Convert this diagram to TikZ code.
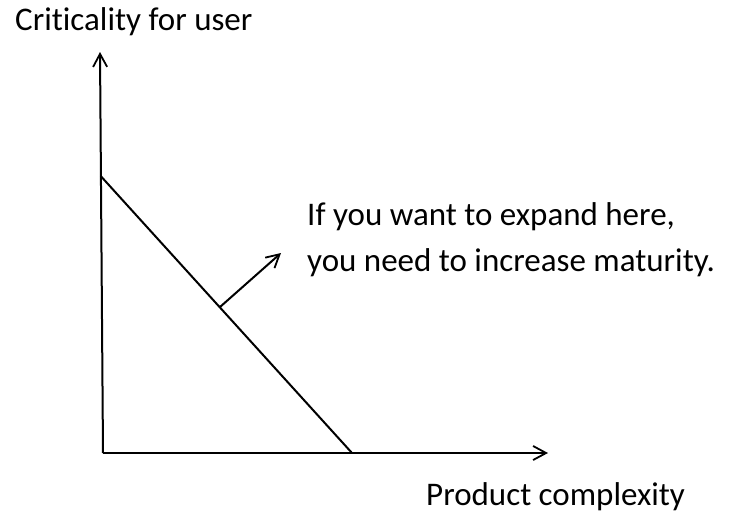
\documentclass[tikz,border=0pt]{standalone}
\usepackage{fontspec}
\setmainfont[Ligatures=NoCommon]{Carlito}
\usetikzlibrary{arrows.meta}
\begin{document}
\begin{tikzpicture}[x=1pt,y=-1pt,
  axis/.style={line width=2pt,-{Straight Barb[length=13pt,width=14pt,line width=1.8pt]}},
  frontier/.style={line width=2pt},
  label/.style={inner sep=0pt,font=\fontsize{33}{40}\selectfont}]
  \useasboundingbox (0,0) rectangle (729,517);
  % axes
  \coordinate (origin) at (103,453);
  \coordinate (ytip) at (100,52);
  \coordinate (xtip) at (548,453);
  \draw[axis] (origin) -- (ytip);
  \draw[axis] (origin) -- (xtip);
  % frontier line between the axes
  \coordinate (ftop) at (100.7,176);
  \coordinate (fbot) at (352,453);
  \draw[frontier] (ftop) -- (fbot);
  % outward arrow
  \coordinate (astart) at (220,307);
  \coordinate (aend) at (281,253);
  \draw[axis] (astart) -- (aend);
  % labels
  \node[label,anchor=west] (ylab) at (15,22) {Criticality for user};
  \node[label,anchor=west] (xlab) at (426,497) {Product complexity};
  \node[label,anchor=west] (note1) at (307,217) {If you want to expand here,};
  \node[label,anchor=west] (note2) at (307,263) {you need to increase maturity.};
\end{tikzpicture}
\end{document}
